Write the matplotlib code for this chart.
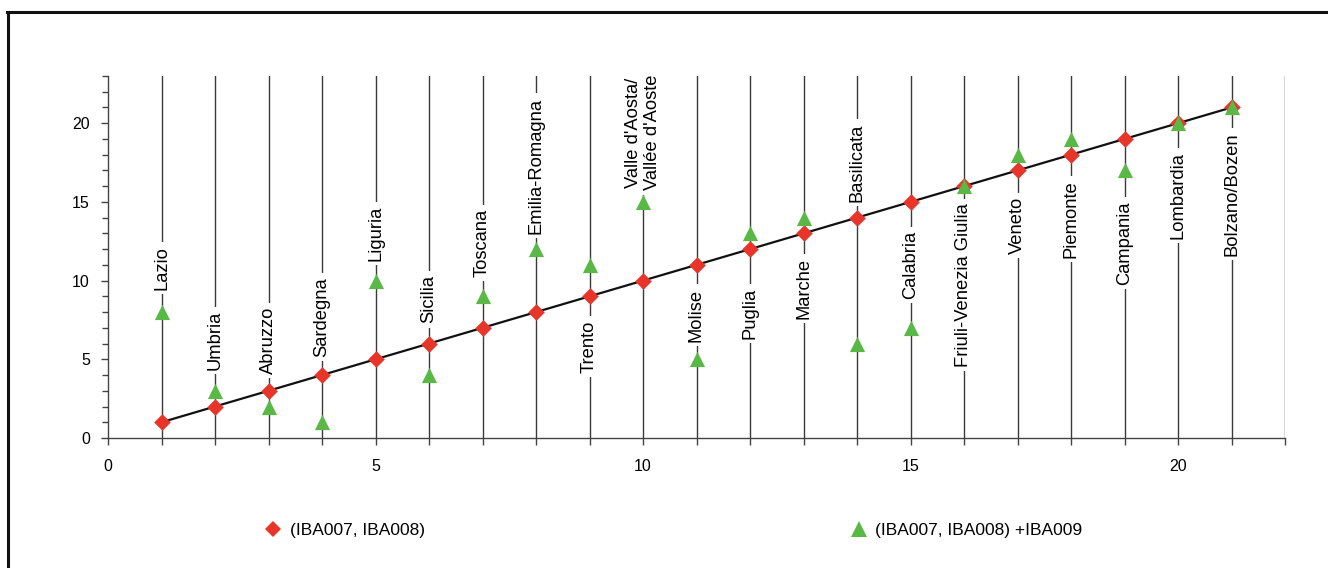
import matplotlib
matplotlib.use("Agg")
import matplotlib.pyplot as plt
from matplotlib.lines import Line2D
from matplotlib.ticker import MultipleLocator

plt.rcParams['font.family'] = ['Liberation Sans', 'DejaVu Sans']

regions = ["Lazio", "Umbria", "Abruzzo", "Sardegna", "Liguria", "Sicilia", "Toscana",
           "Emilia-Romagna", "Trento", "Valle d'Aosta/\nVallée d'Aoste", "Molise", "Puglia",
           "Marche", "Basilicata", "Calabria", "Friuli-Venezia Giulia", "Veneto", "Piemonte",
           "Campania", "Lombardia", "Bolzano/Bozen"]
rank_x = list(range(1, 22))
rank_a = list(range(1, 22))  # (IBA007, IBA008)
rank_b = [8, 3, 2, 1, 10, 4, 9, 12, 11, 15, 5, 13, 14, 6, 7, 16, 18, 19, 17, 20, 21]  # + IBA009
label_y = [10.8, 6.2, 6.2, 7.7, 13.0, 8.8, 12.4, 17.3, 5.8, 19.4, 7.8, 7.9, 9.5, 17.5,
           11.0, 9.7, 13.5, 13.9, 12.4, 15.4, 15.5]

fig = plt.figure(figsize=(13.28, 5.68), dpi=100)
ax = fig.add_axes([108/1328, 1-438/568, (1285-108)/1328, (438-76)/568])

line_col = '#3a3a3a'
for x in rank_x + [22]:
    ax.plot([x, x], [0, 23], color=line_col, lw=1.0, zorder=1)

for x, name, y in zip(rank_x, regions, label_y):
    ax.text(x, y, name, rotation=90, ha='center', va='center', fontsize=13.2,
            color='black', zorder=2, linespacing=1.15,
            bbox=dict(facecolor='white', edgecolor='none', pad=3))

ax.plot([rank_x[0], rank_x[-1]], [rank_a[0], rank_a[-1]], color='#111111', lw=1.6, zorder=3)
ax.scatter(rank_x, rank_a, marker='D', s=72, color='#e8352a', zorder=4, linewidths=0)
ax.scatter(rank_x, rank_b, marker='^', s=120, color='#5ab946', zorder=5, linewidths=0)

ax.set_xlim(0, 22)
ax.set_ylim(0, 23)
ax.set_xticks(range(0, 23))
ax.set_xticklabels([str(v) if v % 5 == 0 else '' for v in range(0, 23)])
ax.set_yticks([0, 5, 10, 15, 20])
ax.yaxis.set_minor_locator(MultipleLocator(1))
ax.tick_params(axis='both', direction='out', length=5, width=1, color='#444444',
               labelsize=11.5, pad=10)
ax.tick_params(axis='y', which='minor', length=4, width=1, color='#444444')
ax.tick_params(axis='y', pad=8)
for s in ['top', 'right']:
    ax.spines[s].set_visible(False)
for s in ['left', 'bottom']:
    ax.spines[s].set_color('#444444')
    ax.spines[s].set_linewidth(1.0)
ax.patch.set_alpha(0)

h1 = Line2D([], [], marker='D', color='#e8352a', linestyle='none', markersize=8, markeredgewidth=0)
h2 = Line2D([], [], marker='^', color='#5ab946', linestyle='none', markersize=11, markeredgewidth=0)
fig.legend([h1, h2], ["(IBA007, IBA008)", "(IBA007, IBA008) +IBA009"], ncol=2,
           loc='center left', bbox_to_anchor=(249/1328, 1-530/568), frameon=False,
           fontsize=12.5, columnspacing=24.5, handletextpad=0.45, handlelength=1.0)

# figure border (partly cropped)
fig.add_artist(Line2D([7.5/1328, 7.5/1328], [0, 1-12/568], color='#111111', lw=2.2,
                      transform=fig.transFigure))
fig.add_artist(Line2D([6.5/1328, 1], [1-12/568, 1-12/568], color='#111111', lw=2.2,
                      transform=fig.transFigure))

fig.savefig("out.png", dpi=100)
